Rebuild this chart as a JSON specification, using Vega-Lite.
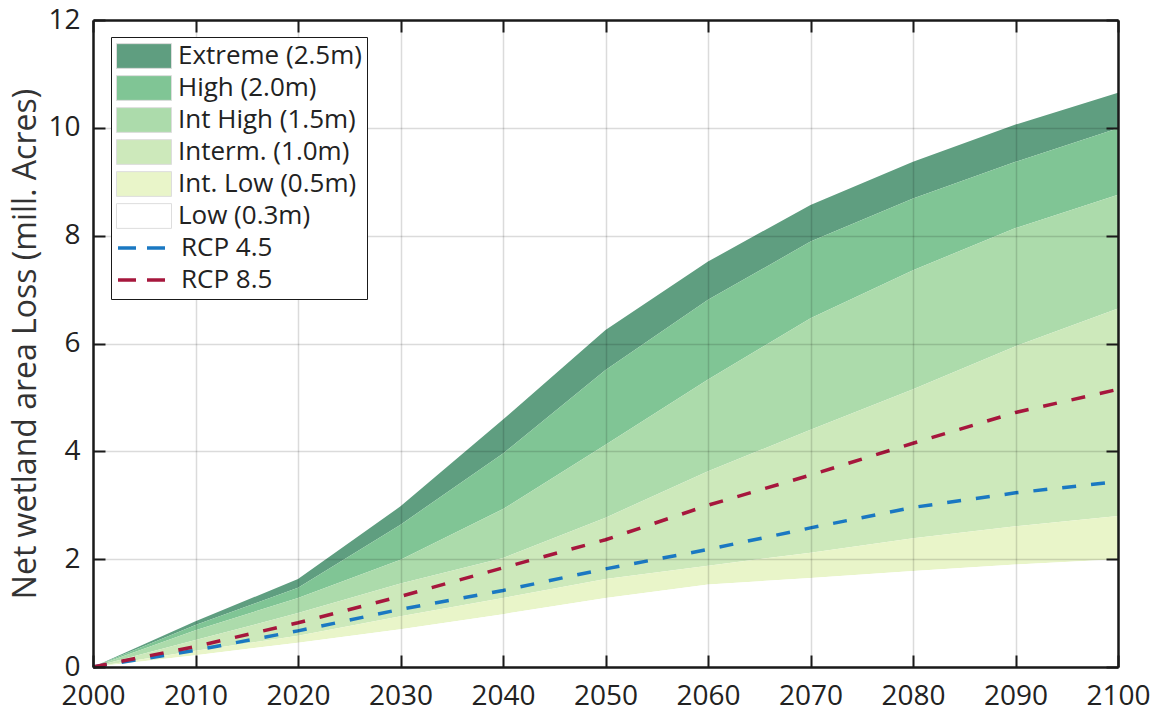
{
  "$schema": "https://vega.github.io/schema/vega-lite/v6.json",
  "width": 1025,
  "height": 647,
  "autosize": {"type": "none"},
  "padding": {"left": 93, "top": 20, "right": 50, "bottom": 48},
  "background": "white",
  "config": {"view": {"stroke": null}, "font": "Open Sans"},
  "data": {
    "values": [
      {"year": 2000, "Low": 0, "IntLow": 0, "Interm": 0, "IntHigh": 0, "High": 0, "Extreme": 0, "RCP45": 0, "RCP85": 0},
      {"year": 2010, "Low": 0.22, "IntLow": 0.30, "Interm": 0.50, "IntHigh": 0.68, "High": 0.78, "Extreme": 0.85, "RCP45": 0.31, "RCP85": 0.38},
      {"year": 2020, "Low": 0.45, "IntLow": 0.58, "Interm": 1.00, "IntHigh": 1.28, "High": 1.47, "Extreme": 1.63, "RCP45": 0.67, "RCP85": 0.82},
      {"year": 2030, "Low": 0.70, "IntLow": 0.94, "Interm": 1.55, "IntHigh": 1.99, "High": 2.64, "Extreme": 2.98, "RCP45": 1.07, "RCP85": 1.31},
      {"year": 2040, "Low": 0.98, "IntLow": 1.28, "Interm": 2.02, "IntHigh": 2.93, "High": 3.96, "Extreme": 4.59, "RCP45": 1.42, "RCP85": 1.84},
      {"year": 2050, "Low": 1.28, "IntLow": 1.63, "Interm": 2.77, "IntHigh": 4.12, "High": 5.51, "Extreme": 6.25, "RCP45": 1.82, "RCP85": 2.36},
      {"year": 2060, "Low": 1.53, "IntLow": 1.88, "Interm": 3.63, "IntHigh": 5.33, "High": 6.81, "Extreme": 7.52, "RCP45": 2.18, "RCP85": 3.00},
      {"year": 2070, "Low": 1.65, "IntLow": 2.12, "Interm": 4.40, "IntHigh": 6.47, "High": 7.89, "Extreme": 8.57, "RCP45": 2.58, "RCP85": 3.56},
      {"year": 2080, "Low": 1.78, "IntLow": 2.39, "Interm": 5.15, "IntHigh": 7.36, "High": 8.69, "Extreme": 9.37, "RCP45": 2.96, "RCP85": 4.15},
      {"year": 2090, "Low": 1.90, "IntLow": 2.61, "Interm": 5.95, "IntHigh": 8.14, "High": 9.37, "Extreme": 10.06, "RCP45": 3.23, "RCP85": 4.72},
      {"year": 2100, "Low": 2.00, "IntLow": 2.80, "Interm": 6.65, "IntHigh": 8.76, "High": 9.99, "Extreme": 10.65, "RCP45": 3.44, "RCP85": 5.15}
    ]
  },
  "layer": [
    {
      "mark": {"type": "area", "interpolate": "linear", "opacity": 1},
      "encoding": {
        "x": {"field": "year", "type": "quantitative", "scale": {"domain": [2000, 2100], "nice": false, "zero": false},
          "axis": {"orient": "bottom", "values": [2000, 2010, 2020, 2030, 2040, 2050, 2060, 2070, 2080, 2090, 2100], "format": "d", "title": null,
            "grid": true, "gridColor": "#000000", "gridOpacity": 0.14, "gridWidth": 1.5,
            "domainColor": "#1a1a1a", "domainWidth": 2.5, "tickColor": "#1a1a1a", "tickWidth": 2, "tickSize": -12,
            "labelFontSize": 28, "labelFont": "Open Sans", "labelColor": "#222222", "labelPadding": 27, "labelFlush": false, "labelOverlap": false, "zindex": 1}},
        "y": {"field": "Extreme", "type": "quantitative", "scale": {"domain": [0, 12], "nice": false, "zero": true},
          "axis": {"orient": "left", "values": [0, 2, 4, 6, 8, 10, 12], "title": "Net wetland area Loss (mill. Acres)",
            "grid": true, "gridColor": "#000000", "gridOpacity": 0.14, "gridWidth": 1.5,
            "domainColor": "#1a1a1a", "domainWidth": 2.5, "tickColor": "#1a1a1a", "tickWidth": 2, "tickSize": -12,
            "labelFontSize": 28, "labelFont": "Open Sans", "labelColor": "#222222", "labelPadding": 25, "labelFlush": false, "labelOverlap": false,
            "titleFontSize": 32, "titleFont": "Open Sans", "titleFontWeight": "normal", "titleColor": "#333333", "titlePadding": 5, "zindex": 1}},
        "y2": {"field": "High"},
        "fill": {"datum": "Extreme (2.5m)",
          "scale": {"domain": ["Extreme (2.5m)", "High (2.0m)", "Int High (1.5m)", "Interm. (1.0m)", "Int. Low (0.5m)", "Low (0.3m)", "RCP 4.5", "RCP 8.5"],
            "range": ["#5f9e80", "#80c595", "#acdbab", "#cde9bb", "#e9f5c9", "#ffffff", "#ffffff", "#ffffff"]},
          "legend": {
            "orient": "none", "legendX": 18, "legendY": 17, "title": null, "direction": "vertical",
            "fillColor": "white", "strokeColor": "#1a1a1a", "padding": 5,
            "symbolType": "M-1,-0.45H1V0.45H-1Z", "symbolSize": 3025,
            "symbolStrokeColor": "#dddddd", "symbolStrokeWidth": 1, "symbolOpacity": 1,
            "clipHeight": 28, "rowPadding": 4,
            "labelFontSize": 26, "labelFont": "Open Sans", "labelColor": "#222222",
            "labelOffset": 6, "labelLimit": 400, "zindex": 2,
            "labelExpr": "indexof(datum.label, 'RCP') === 0 ? '' : datum.label"
          }
        }
      }
    },
    {
      "mark": {"type": "area", "interpolate": "linear"},
      "encoding": {
        "x": {"field": "year", "type": "quantitative", "axis": null},
        "y": {"field": "High", "type": "quantitative", "axis": null},
        "y2": {"field": "IntHigh"},
        "fill": {"datum": "High (2.0m)", "legend": null}
      }
    },
    {
      "mark": {"type": "area", "interpolate": "linear"},
      "encoding": {
        "x": {"field": "year", "type": "quantitative", "axis": null},
        "y": {"field": "IntHigh", "type": "quantitative", "axis": null},
        "y2": {"field": "Interm"},
        "fill": {"datum": "Int High (1.5m)", "legend": null}
      }
    },
    {
      "mark": {"type": "area", "interpolate": "linear"},
      "encoding": {
        "x": {"field": "year", "type": "quantitative", "axis": null},
        "y": {"field": "Interm", "type": "quantitative", "axis": null},
        "y2": {"field": "IntLow"},
        "fill": {"datum": "Interm. (1.0m)", "legend": null}
      }
    },
    {
      "mark": {"type": "area", "interpolate": "linear"},
      "encoding": {
        "x": {"field": "year", "type": "quantitative", "axis": null},
        "y": {"field": "IntLow", "type": "quantitative", "axis": null},
        "y2": {"field": "Low"},
        "fill": {"datum": "Int. Low (0.5m)", "legend": null}
      }
    },
    {
      "mark": {"type": "area", "interpolate": "linear"},
      "encoding": {
        "x": {"field": "year", "type": "quantitative", "axis": null},
        "y": {"field": "Low", "type": "quantitative", "axis": null},
        "fill": {"datum": "Low (0.3m)", "legend": null}
      }
    },
    {
      "mark": {"type": "line", "interpolate": "linear", "strokeWidth": 3.5, "strokeDash": [14, 15]},
      "encoding": {
        "x": {"field": "year", "type": "quantitative",
          "axis": {"orient": "top", "values": [2000, 2010, 2020, 2030, 2040, 2050, 2060, 2070, 2080, 2090, 2100], "labels": false, "title": null, "grid": false,
            "domainColor": "#1a1a1a", "domainWidth": 2.5, "tickColor": "#1a1a1a", "tickWidth": 2, "tickSize": -12, "zindex": 1}},
        "y": {"field": "RCP45", "type": "quantitative",
          "axis": {"orient": "right", "values": [0, 2, 4, 6, 8, 10, 12], "labels": false, "title": null, "grid": false,
            "domainColor": "#1a1a1a", "domainWidth": 2.5, "tickColor": "#1a1a1a", "tickWidth": 2, "tickSize": -12, "zindex": 1}},
        "stroke": {"datum": "RCP 4.5",
          "scale": {"domain": ["RCP 4.5", "RCP 8.5"], "range": ["#1a78c2", "#a6173d"]},
          "legend": {
            "orient": "none", "legendX": 20, "legendY": 211, "title": null, "direction": "vertical",
            "fillColor": "white", "padding": 3,
            "symbolType": "stroke", "symbolSize": 3025, "symbolStrokeWidth": 3.5, "symbolDash": [18, 11], "symbolOpacity": 1,
            "clipHeight": 28, "rowPadding": 4,
            "labelFontSize": 26, "labelFont": "Open Sans", "labelColor": "#222222",
            "labelOffset": 6, "labelLimit": 400, "zindex": 3
          }
        }
      }
    },
    {
      "mark": {"type": "line", "interpolate": "linear", "strokeWidth": 3.5, "strokeDash": [14, 15]},
      "encoding": {
        "x": {"field": "year", "type": "quantitative", "axis": null},
        "y": {"field": "RCP85", "type": "quantitative", "axis": null},
        "stroke": {"datum": "RCP 8.5", "legend": null}
      }
    }
  ],
  "resolve": {"axis": {"x": "independent", "y": "independent"}}
}
